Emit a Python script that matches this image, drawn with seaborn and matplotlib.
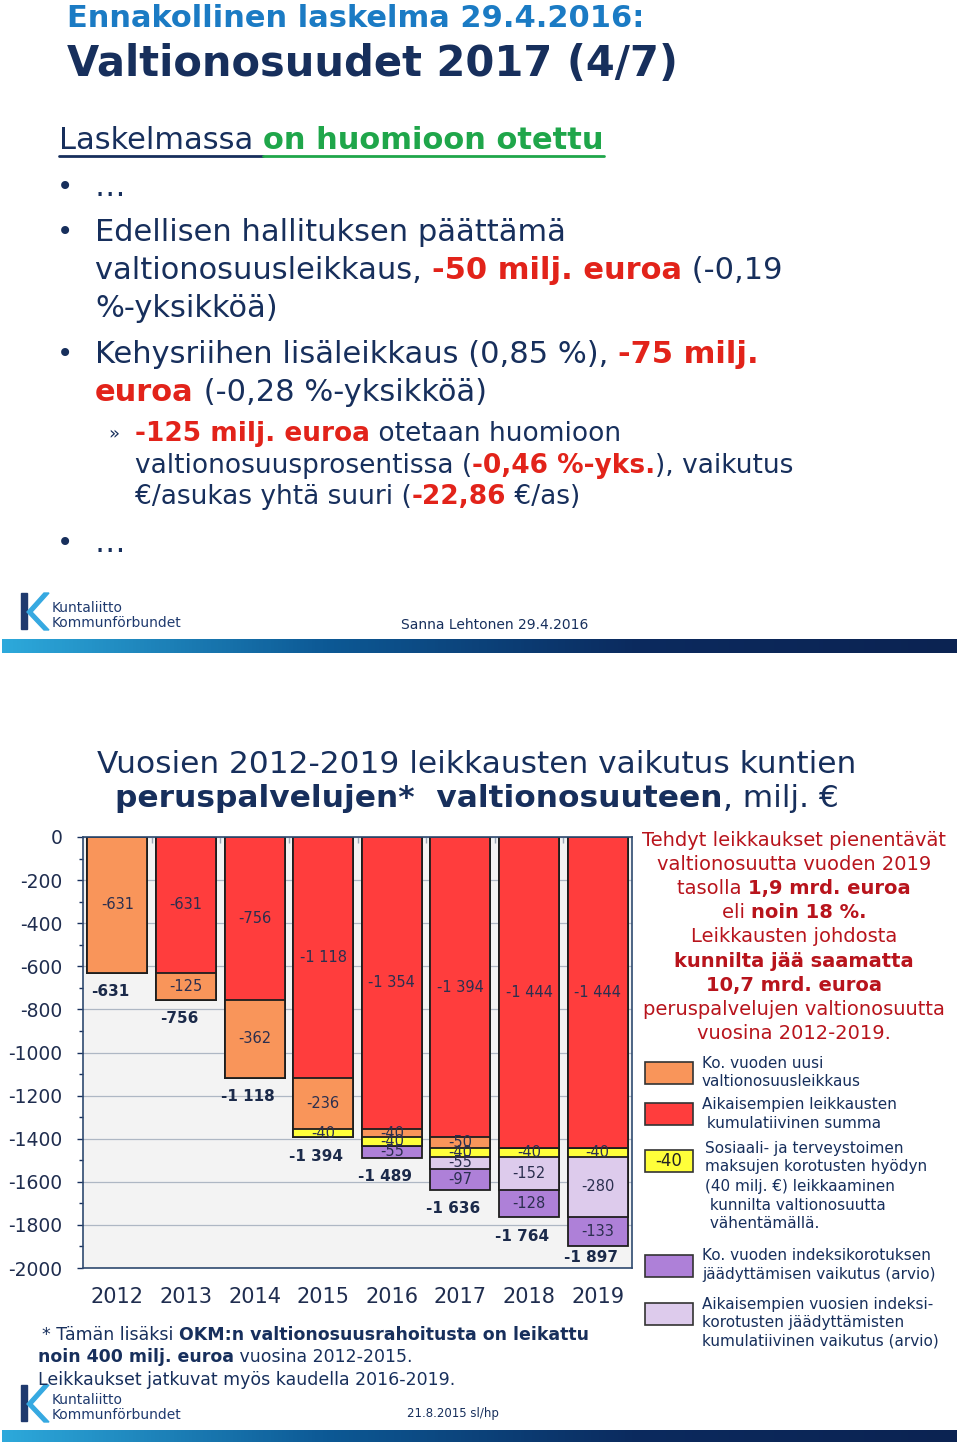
import matplotlib
matplotlib.use("Agg")

import numpy as np
import matplotlib.pyplot as plt
import seaborn as sns
from matplotlib.colors import LinearSegmentedColormap
from matplotlib.patches import Rectangle, Polygon

sns.set_theme(style="white")
plt.rcParams["font.family"] = ["DejaVu Sans"]

# data (milj. €)
years = ["2012", "2013", "2014", "2015", "2016", "2017", "2018", "2019"]
prev_cuts = [0, -631, -756, -1118, -1354, -1394, -1444, -1444]
new_cut = [-631, -125, -362, -236, -40, -50, 0, 0]
sote_cut = [0, 0, 0, -40, -40, -40, -40, -40]
prev_index = [0, 0, 0, 0, 0, -55, -152, -280]
new_index = [0, 0, 0, 0, -55, -97, -128, -133]
y_ticks = list(range(0, -2001, -200))

C_RED = "#FF3D3D"
C_ORANGE = "#F9955A"
C_YELLOW = "#FFFF3A"
C_LILAC = "#DDCBEC"
C_PURPLE = "#AE80D8"

segments = [
    (prev_cuts, C_RED),
    (new_cut, C_ORANGE),
    (sote_cut, C_YELLOW),
    (prev_index, C_LILAC),
    (new_index, C_PURPLE),
]

NAVY = "#172F5C"
RED_TXT = "#E2231A"
BLUE_HEAD = "#1B7BC4"
GREEN = "#1FA64A"
DARKRED = "#B8141C"


def fmt(v):
    return f"{v:,}".replace(",", " ")


fig = plt.figure(figsize=(9.6, 14.5), dpi=100)
fig.patch.set_facecolor("white")

# overlay in pixel coordinates for the slide texts
over = fig.add_axes([0, 0, 1, 1], zorder=0)
over.set_axis_off()
R = fig.canvas.get_renderer()


def twidth(s, size, weight):
    t = over.text(0, 0, s + "|", fontsize=size, fontweight=weight)
    t2 = over.text(0, 0, "|", fontsize=size, fontweight=weight)
    w = t.get_window_extent(R).width - t2.get_window_extent(R).width
    t.remove()
    t2.remove()
    return w


def runs(x, y, parts, size, ha="left"):
    ws = [twidth(s, size, wt) for s, c, wt in parts]
    if ha == "center":
        x = x - sum(ws) / 2
    for (s, c, wt), w in zip(parts, ws):
        over.text(x, y, s, fontsize=size, color=c, fontweight=wt, va="center", ha="left")
        x += w
    return x


N, B = "normal", "bold"
BODY = 22
SUB = 19

# ---------- slide 1 ----------
runs(67, 18, [("Ennakollinen laskelma 29.4.2016:", BLUE_HEAD, B)], 22)
runs(67, 64, [("Valtionosuudet 2017 (4/7)", NAVY, B)], 30)
x1 = runs(59, 140, [("Laskelmassa ", NAVY, N)], BODY)
x2 = runs(x1, 140, [("on huomioon otettu", GREEN, B)], BODY)
over.plot([59, x1], [156, 156], color=NAVY, lw=2)
over.plot([x1, x2], [156, 156], color=GREEN, lw=2)

for yb in [187, 232, 354, 543]:
    over.text(65, yb, "•", fontsize=20, color=NAVY, va="center", ha="center")
runs(95, 187, [("…", NAVY, N)], BODY)
runs(95, 232, [("Edellisen hallituksen päättämä", NAVY, N)], BODY)
runs(95, 270, [("valtionosuusleikkaus, ", NAVY, N), ("-50 milj. euroa", RED_TXT, B),
               (" (-0,19", NAVY, N)], BODY)
runs(95, 308, [("%-yksikköä)", NAVY, N)], BODY)
runs(95, 354, [("Kehysriihen lisäleikkaus (0,85 %), ", NAVY, N), ("-75 milj.", RED_TXT, B)], BODY)
runs(95, 392, [("euroa", RED_TXT, B), (" (-0,28 %-yksikköä)", NAVY, N)], BODY)
over.text(114, 434, "»", fontsize=13, color=NAVY, va="center", ha="center")
runs(135, 434, [("-125 milj. euroa", RED_TXT, B), (" otetaan huomioon", NAVY, N)], SUB)
runs(135, 466, [("valtionosuusprosentissa (", NAVY, N), ("-0,46 %-yks.", RED_TXT, B),
                ("), vaikutus", NAVY, N)], SUB)
runs(135, 497, [("€/asukas yhtä suuri (", NAVY, N), ("-22,86", RED_TXT, B),
                (" €/as)", NAVY, N)], SUB)
runs(95, 543, [("…", NAVY, N)], BODY)


def logo(y0):
    over.add_patch(Rectangle((21, y0), 6, 36, color="#1F3A6E"))
    over.add_patch(Polygon([(27, y0 + 19), (44, y0), (49, y0), (32, y0 + 19),
                            (49, y0 + 37), (44, y0 + 37)], color="#36A9E1"))
    over.text(52, y0 + 15, "Kuntaliitto", fontsize=10, color="#1F3A6E", va="center")
    over.text(52, y0 + 30, "Kommunförbundet", fontsize=10, color="#1F3A6E", va="center")


grad = LinearSegmentedColormap.from_list("g", ["#2DA9DB", "#0D5A96", "#0B2A5E", "#0B2352"])
logo(593)
over.text(495, 625, "Sanna Lehtonen 29.4.2016", fontsize=10, color=NAVY, va="center", ha="center")
over.imshow(np.linspace(0, 1, 256)[None, :], extent=[2, 957, 653, 639], cmap=grad, aspect="auto")

# ---------- slide 2 ----------
runs(477, 764, [("Vuosien 2012-2019 leikkausten vaikutus kuntien", NAVY, N)], 22.5, ha="center")
runs(477, 798, [("peruspalvelujen*  valtionosuuteen", NAVY, B), (", milj. €", NAVY, N)], 22.5, ha="center")

ann = [
    [("Tehdyt leikkaukset pienentävät", N)],
    [("valtionosuutta vuoden 2019", N)],
    [("tasolla ", N), ("1,9 mrd. euroa", B)],
    [("eli ", N), ("noin 18 %.", B)],
    [("Leikkausten johdosta", N)],
    [("kunnilta jää saamatta", B)],
    [("10,7 mrd. euroa", B)],
    [("peruspalvelujen valtionosuutta", N)],
    [("vuosina 2012-2019.", N)],
]
for i, line in enumerate(ann):
    runs(794, 840 + i * 24.2, [(s, DARKRED, w) for s, w in line], 14, ha="center")

legend = [
    (C_ORANGE, 1062, 702, [(1063, "Ko. vuoden uusi"), (1082, "valtionosuusleikkaus")]),
    (C_RED, 1103, 702, [(1105, "Aikaisempien leikkausten"), (1124, " kumulatiivinen summa")]),
    (C_YELLOW, 1150, 705, [(1148, "Sosiaali- ja terveystoimen"), (1167, "maksujen korotusten hyödyn"),
                           (1187, "(40 milj. €) leikkaaminen"), (1206, " kunnilta valtionosuutta"),
                           (1224, " vähentämällä.")]),
    (C_PURPLE, 1255, 702, [(1255, "Ko. vuoden indeksikorotuksen"), (1274, "jäädyttämisen vaikutus (arvio)")]),
    (C_LILAC, 1303, 702, [(1304, "Aikaisempien vuosien indeksi-"), (1322, "korotusten jäädyttämisten"),
                          (1341, "kumulatiivinen vaikutus (arvio)")]),
]
for color, by, tx, lines in legend:
    over.add_patch(Rectangle((645, by), 48, 22, facecolor=color, edgecolor="#333333", lw=1.2))
    for ly, s in lines:
        over.text(tx, ly, s, fontsize=11, color=NAVY, va="center")
over.text(669, 1161, "-40", fontsize=12, color="#222222", va="center", ha="center")

runs(42, 1335, [("* Tämän lisäksi ", NAVY, N), ("OKM:n valtionosuusrahoitusta on leikattu", NAVY, B)], 12.5)
runs(38, 1357, [("noin 400 milj. euroa", NAVY, B), (" vuosina 2012-2015.", NAVY, N)], 12.5)
runs(38, 1380, [("Leikkaukset jatkuvat myös kaudella 2016-2019.", NAVY, N)], 12.5)

logo(1385)
over.text(453, 1413, "21.8.2015 sl/hp", fontsize=8.5, color=NAVY, va="center", ha="center")
over.imshow(np.linspace(0, 1, 256)[None, :], extent=[2, 957, 1442, 1430], cmap=grad, aspect="auto")

over.set_xlim(0, 960)
over.set_ylim(1450, 0)

# ---------- stacked bar chart ----------
ax = fig.add_axes([83 / 960, 1 - 1268 / 1450, (632 - 83) / 960, (1268 - 837) / 1450], zorder=2)
ax.set_facecolor("#F3F3F3")

vals = np.array([s[0] for s in segments])
cum = np.cumsum(vals, axis=0)
for k in range(len(segments) - 1, -1, -1):
    sns.barplot(x=years, y=cum[k], color=segments[k][1], saturation=1, width=0.875,
                edgecolor="#1E1E1E", linewidth=1.3, errorbar=None, ax=ax)

for k, (v, color) in enumerate(segments):
    for i, val in enumerate(v):
        if val == 0:
            continue
        mid = cum[k][i] - val / 2
        ax.text(i, mid, fmt(val), ha="center", va="center", fontsize=10.5, color="#2B2F4F", zorder=5)

totals = cum[-1]
for i, t in enumerate(totals):
    ax.text(i - 0.1, max(t - 88, -1950), fmt(int(t)), ha="center", va="center", fontsize=11,
            fontweight="bold", color="#1B2A4A", zorder=5)

ax.set_ylim(-2000, 0)
ax.set_xlim(-0.5, 7.5)
ax.set_yticks(y_ticks)
ax.set_yticklabels([str(t) for t in y_ticks])
ax.set_yticks(range(-100, -2000, -200), minor=True)
ax.set_xticks(range(len(years)))
ax.set_xticklabels(years)
ax.set_xticks(np.arange(0.5, 7.5, 1), minor=True)
ax.set_xlabel("")
ax.set_ylabel("")
ax.set_axisbelow(True)
ax.yaxis.grid(True, which="major", color="#AEB7C4", linewidth=0.9)
ax.xaxis.grid(False)
ax.tick_params(axis="y", which="major", left=True, length=4, width=1, color=NAVY,
               labelsize=13.5, labelcolor="#1F2D4F", pad=11)
ax.tick_params(axis="y", which="minor", left=True, length=3, width=1, color=NAVY)
ax.tick_params(axis="x", which="major", length=0, labelsize=15, labelcolor="#1F2D4F", pad=14)
ax.tick_params(axis="x", which="minor", bottom=False, top=True, direction="in", length=4,
               color="#9AA5B4")
for sp in ax.spines.values():
    sp.set_color("#2F4A70")
    sp.set_linewidth(1.2)

fig.savefig("out.png", dpi=100, facecolor="white")
